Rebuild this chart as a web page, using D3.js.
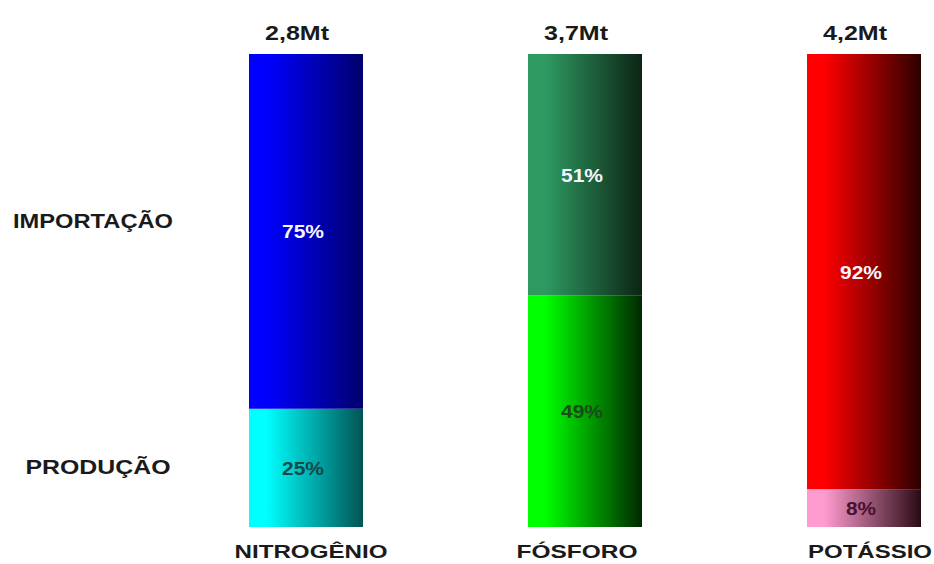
<!DOCTYPE html>
<html>
<head>
<meta charset="utf-8">
<script src="https://cdn.jsdelivr.net/npm/d3@7"></script>
<style>
  html, body { margin: 0; padding: 0; background: #ffffff; }
  svg { display: block; }
  text { font-family: "Liberation Sans", Arial, sans-serif; font-weight: bold; }
</style>
</head>
<body>
<svg id="chart" width="934" height="564"></svg>
<script>
// ---- data ----
const categories = ["NITROGÊNIO", "FÓSFORO", "POTÁSSIO"];
const totals = ["2,8Mt", "3,7Mt", "4,2Mt"];
const producao = [25, 49, 8];
const importacao = [75, 51, 92];
const seriesNames = ["PRODUÇÃO", "IMPORTAÇÃO"];

// gradient colours per category: [light, dark] for produção and importação
const prodColors = [["#00ffff", "#005454"], ["#00ff00", "#002800"], ["#ff9ccf", "#2a0a14"]];
const impColors = [["#0000ff", "#00006e"], ["#2e9a62", "#0c2414"], ["#ff0000", "#2c0000"]];
const prodText = ["#174848", "#1c4a1c", "#4a1030"];

const svg = d3.select("#chart");

const x = d3.scalePoint().domain(categories).range([306, 864]);
const y = d3.scaleLinear().domain([0, 100]).range([527, 54]);

const defs = svg.append("defs");
function grad(id, c) {
  const g = defs.append("linearGradient").attr("id", id)
    .attr("x1", "0%").attr("x2", "100%").attr("y1", "0%").attr("y2", "0%");
  g.append("stop").attr("offset", "0%").attr("stop-color", c[0]);
  g.append("stop").attr("offset", "15%").attr("stop-color", c[0]);
  g.append("stop").attr("offset", "100%").attr("stop-color", c[1]);
}
categories.forEach((c, i) => {
  grad("gp" + i, prodColors[i]);
  grad("gi" + i, impColors[i]);
});

const bw = 114;
const cx = c => x(c);

const g = svg.append("g");
categories.forEach((c, i) => {
  const x0 = cx(c) - bw / 2;
  // produção
  g.append("rect")
    .attr("x", x0).attr("width", bw)
    .attr("y", y(producao[i])).attr("height", y(0) - y(producao[i]))
    .attr("fill", `url(#gp${i})`);
  // importação
  g.append("rect")
    .attr("x", x0).attr("width", bw)
    .attr("y", y(producao[i] + importacao[i])).attr("height", y(producao[i]) - y(producao[i] + importacao[i]))
    .attr("fill", `url(#gi${i})`);

  // percent labels
  g.append("text")
    .attr("x", cx(c) - 3).attr("y", y(producao[i] + importacao[i] / 2) + 7)
    .attr("text-anchor", "middle").attr("font-size", 18)
    .attr("fill", "#f4f6ff")
    .attr("textLength", 42).attr("lengthAdjust", "spacingAndGlyphs")
    .text(importacao[i] + "%");
  g.append("text")
    .attr("x", cx(c) - 3).attr("y", y(producao[i] / 2) + 7)
    .attr("text-anchor", "middle").attr("font-size", 18)
    .attr("fill", prodText[i])
    .attr("textLength", producao[i] < 10 ? 30 : 42).attr("lengthAdjust", "spacingAndGlyphs")
    .text(producao[i] + "%");

  // totals
  g.append("text")
    .attr("x", cx(c) - 9).attr("y", 40)
    .attr("text-anchor", "middle").attr("font-size", 20)
    .attr("fill", "#1a1a1a")
    .attr("textLength", 64).attr("lengthAdjust", "spacingAndGlyphs")
    .text(totals[i]);
});

// category labels
const catOffsets = [5, -8, 6];
const catLengths = [153, 121, 124];
categories.forEach((c, i) => {
  svg.append("text")
    .attr("x", cx(c) + catOffsets[i]).attr("y", 558)
    .attr("text-anchor", "middle").attr("font-size", 19)
    .attr("fill", "#1a1a1a")
    .attr("textLength", catLengths[i]).attr("lengthAdjust", "spacingAndGlyphs")
    .text(c);
});

// series labels on the left
const seriesPos = [13, 65];
const seriesLen = [145, 160];
const seriesX = [98, 93];
seriesNames.forEach((s, i) => {
  svg.append("text")
    .attr("x", seriesX[i]).attr("y", y(seriesPos[i]) + 8)
    .attr("text-anchor", "middle").attr("font-size", 20)
    .attr("fill", "#1a1a1a")
    .attr("textLength", seriesLen[i]).attr("lengthAdjust", "spacingAndGlyphs")
    .text(s);
});
</script>
</body>
</html>
